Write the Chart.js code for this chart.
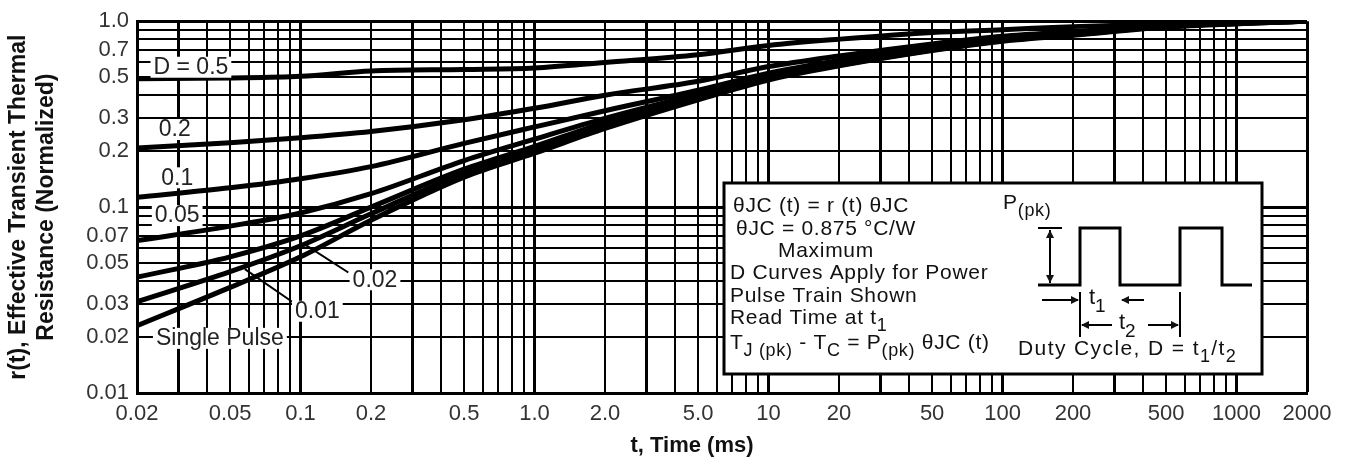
<!DOCTYPE html>
<html>
<head>
<meta charset="utf-8">
<script src="https://cdn.jsdelivr.net/npm/chart.js@4.4.0/dist/chart.umd.min.js"></script>
<style>
  html, body { margin: 0; padding: 0; background: #fff; }
  #wrap { width: 1350px; height: 464px; }
</style>
</head>
<body>
<div id="wrap"><canvas id="myChart" width="1350" height="464"></canvas></div>
<script>
// values: t in ms, r(t) normalized
const times = [0.02, 0.05, 0.1, 0.2, 0.5, 1, 2, 5, 10, 20, 50, 100, 200, 500, 1000, 2000];
const d05    = [0.49, 0.495, 0.505, 0.54, 0.55, 0.56, 0.6, 0.66, 0.74, 0.8, 0.87, 0.9, 0.935, 0.97, 0.99, 1.0];
const d02    = [0.208, 0.222, 0.236, 0.255, 0.295, 0.34, 0.4, 0.475, 0.57, 0.65, 0.755, 0.83, 0.88, 0.95, 0.98, 1.0];
const d01    = [0.113, 0.127, 0.142, 0.165, 0.22, 0.27, 0.33, 0.425, 0.525, 0.615, 0.725, 0.805, 0.865, 0.945, 0.98, 1.0];
const d005   = [0.066, 0.079, 0.093, 0.118, 0.178, 0.232, 0.3, 0.405, 0.505, 0.595, 0.712, 0.795, 0.855, 0.94, 0.975, 1.0];
const d002   = [0.042, 0.054, 0.07, 0.1, 0.16, 0.212, 0.285, 0.392, 0.495, 0.585, 0.705, 0.79, 0.85, 0.935, 0.975, 1.0];
const d001   = [0.031, 0.045, 0.062, 0.092, 0.152, 0.203, 0.275, 0.385, 0.49, 0.58, 0.7, 0.785, 0.845, 0.935, 0.97, 1.0];
const single = [0.023, 0.037, 0.054, 0.085, 0.145, 0.195, 0.265, 0.378, 0.483, 0.575, 0.695, 0.78, 0.84, 0.93, 0.97, 1.0];

const xTickLabels = ['0.02', '0.05', '0.1', '0.2', '0.5', '1.0', '2.0', '5.0', '10', '20', '50', '100', '200', '500', '1000', '2000'];
const yTickLabels = ['0.01', '0.02', '0.03', '0.05', '0.07', '0.1', '0.2', '0.3', '0.5', '0.7', '1.0'];

// curve names and where their text sits (t, r)
const curveNames = ['D = 0.5', '0.2', '0.1', '0.05', '0.02', '0.01', 'Single Pulse'];
const nameAt = [[0.034, 0.569], [0.029, 0.263], [0.0297, 0.1446], [0.0297, 0.0906], [0.208, 0.0409], [0.118, 0.0277], [0.0452, 0.0198]];

// log grid: 1..9 per decade inside the axis range
function logGrid(min, max) {
  const out = [];
  for (let e = -3; e <= 4; e++) {
    for (let m = 1; m <= 9; m++) {
      const v = +(m * Math.pow(10, e)).toPrecision(3);
      if (v >= min * 0.999 && v <= max * 1.001) out.push(v);
    }
  }
  return out;
}
function labelFor(list, v) {
  const hit = list.find(s => Math.abs(parseFloat(s) - v) / v < 1e-6);
  return hit === undefined ? '' : hit;
}
function mantissa(v) {
  return Math.round(v / Math.pow(10, Math.floor(Math.log10(v) + 1e-9)));
}

const font = '"Liberation Sans", Arial, sans-serif';

function mk(vals) {
  return {
    data: times.map((t, i) => ({ x: t, y: vals[i] })),
    borderColor: '#000',
    borderWidth: 5,
    pointRadius: 0,
    fill: false,
    cubicInterpolationMode: 'monotone'
  };
}

function rich(ctx, parts, x, y, size) {
  let cx = x;
  parts.forEach(p => {
    const s = p.sub ? Math.round(size * 0.85) : size;
    ctx.font = s + 'px ' + font;
    ctx.fillText(p.t, cx, y + (p.sub ? size * 0.4 : 0));
    cx += ctx.measureText(p.t).width;
  });
  return cx;
}

function arrowHead(ctx, x, y, dir) {
  ctx.beginPath();
  if (dir === 'r') { ctx.moveTo(x, y); ctx.lineTo(x - 8, y - 4); ctx.lineTo(x - 8, y + 4); }
  if (dir === 'l') { ctx.moveTo(x, y); ctx.lineTo(x + 8, y - 4); ctx.lineTo(x + 8, y + 4); }
  if (dir === 'u') { ctx.moveTo(x, y); ctx.lineTo(x - 4, y + 8); ctx.lineTo(x + 4, y + 8); }
  if (dir === 'd') { ctx.moveTo(x, y); ctx.lineTo(x - 4, y - 8); ctx.lineTo(x + 4, y - 8); }
  ctx.closePath();
  ctx.fill();
}

const notes = {
  id: 'notes',
  afterDatasetsDraw(chart) {
    const { ctx, scales: { x, y } } = chart;
    ctx.save();
    ctx.fillStyle = '#000';
    ctx.strokeStyle = '#000';

    // leader lines for 0.02 and 0.01
    ctx.lineWidth = 2;
    ctx.beginPath();
    ctx.moveTo(x.getPixelForValue(0.16), y.getPixelForValue(0.0445));
    ctx.lineTo(x.getPixelForValue(0.105), y.getPixelForValue(0.0626));
    ctx.moveTo(x.getPixelForValue(0.0947), y.getPixelForValue(0.0302));
    ctx.lineTo(x.getPixelForValue(0.0578), y.getPixelForValue(0.0464));
    ctx.stroke();

    // curve names on white
    ctx.font = '23px ' + font;
    ctx.textAlign = 'center';
    ctx.textBaseline = 'middle';
    curveNames.forEach((n, i) => {
      const px = x.getPixelForValue(nameAt[i][0]);
      const py = y.getPixelForValue(nameAt[i][1]);
      const w = ctx.measureText(n).width;
      ctx.fillStyle = '#fff';
      ctx.fillRect(px - w / 2 - 3, py - 10, w + 6, 21);
      ctx.fillStyle = '#222';
      ctx.fillText(n, px, py + 1);
    });

    // inset box
    const L = 724, T = 183, R = 1262, B = 374;
    ctx.fillStyle = '#fff';
    ctx.fillRect(L, T, R - L, B - T);
    ctx.lineWidth = 3;
    ctx.strokeRect(L, T, R - L, B - T);

    ctx.fillStyle = '#111';
    ctx.textAlign = 'left';
    ctx.textBaseline = 'middle';
    ctx.letterSpacing = '0.7px';
    const fs = 21;
    ctx.font = fs + 'px ' + font;
    ctx.fillText('θJC (t) = r (t) θJC', L + 9, T + 23);
    ctx.fillText('θJC = 0.875 °C/W', L + 12, T + 46);
    ctx.fillText('Maximum', L + 54, T + 68);
    ctx.fillText('D Curves Apply for Power', L + 6, T + 90);
    ctx.fillText('Pulse Train Shown', L + 6, T + 113);
    rich(ctx, [{ t: 'Read Time at t' }, { t: '1', sub: true }], L + 6, T + 135, fs);
    rich(ctx, [{ t: 'T' }, { t: 'J (pk)', sub: true }, { t: ' - T' }, { t: 'C', sub: true }, { t: ' = P' },
               { t: '(pk)', sub: true }, { t: ' θJC (t)' }], L + 6, T + 160, fs);
    ctx.letterSpacing = '1.4px';
    rich(ctx, [{ t: 'Duty Cycle, D = t' }, { t: '1', sub: true }, { t: '/t' }, { t: '2', sub: true }], L + 294, T + 166, fs);
    ctx.letterSpacing = '0.7px';
    rich(ctx, [{ t: 'P' }, { t: '(pk)', sub: true }], L + 279, T + 20, fs);
    ctx.letterSpacing = '0px';

    // pulse train
    const base = T + 102, top = T + 45;
    ctx.lineWidth = 3;
    ctx.beginPath();
    ctx.moveTo(L + 314, base);
    ctx.lineTo(L + 356, base); ctx.lineTo(L + 356, top); ctx.lineTo(L + 396, top); ctx.lineTo(L + 396, base);
    ctx.lineTo(L + 456, base); ctx.lineTo(L + 456, top); ctx.lineTo(L + 498, top); ctx.lineTo(L + 498, base);
    ctx.lineTo(L + 528, base);
    ctx.stroke();
    // P(pk) height arrow
    ctx.lineWidth = 2;
    ctx.beginPath();
    ctx.moveTo(L + 314, top); ctx.lineTo(L + 338, top);
    ctx.moveTo(L + 326, top + 2); ctx.lineTo(L + 326, base - 2);
    ctx.stroke();
    arrowHead(ctx, L + 326, top + 2, 'u');
    arrowHead(ctx, L + 326, base - 2, 'd');
    // t1 and t2 dimensions
    const y1 = T + 117, y2 = T + 142;
    ctx.beginPath();
    ctx.moveTo(L + 318, y1); ctx.lineTo(L + 354, y1);
    ctx.moveTo(L + 398, y1); ctx.lineTo(L + 420, y1);
    ctx.moveTo(L + 356, y1 - 8); ctx.lineTo(L + 356, y2 + 12);
    ctx.moveTo(L + 456, y1 - 8); ctx.lineTo(L + 456, y2 + 12);
    ctx.moveTo(L + 358, y2); ctx.lineTo(L + 388, y2);
    ctx.moveTo(L + 424, y2); ctx.lineTo(L + 454, y2);
    ctx.stroke();
    arrowHead(ctx, L + 355, y1, 'r');
    arrowHead(ctx, L + 397, y1, 'l');
    arrowHead(ctx, L + 357, y2, 'l');
    arrowHead(ctx, L + 455, y2, 'r');
    rich(ctx, [{ t: 't' }, { t: '1', sub: true }], L + 365, y1 - 2, fs + 1);
    rich(ctx, [{ t: 't' }, { t: '2', sub: true }], L + 395, y2 - 2, fs + 1);

    // x axis title, sits a little left of centre in the original
    ctx.fillStyle = '#111';
    ctx.textAlign = 'center';
    ctx.font = 'bold 22px ' + font;
    ctx.fillText('t, Time (ms)', 692, 446);

    ctx.restore();
  }
};

const data = {
  datasets: [mk(d05), mk(d02), mk(d01), mk(d005), mk(d002), mk(d001), mk(single)]
};

const config = {
  type: 'line',
  data,
  plugins: [notes],
  options: {
    responsive: false,
    animation: false,
    devicePixelRatio: 1,
    layout: { padding: { top: 17, right: 43, left: 0, bottom: 0 } },
    plugins: { legend: { display: false }, tooltip: { enabled: false } },
    scales: {
      x: {
        type: 'logarithmic',
        min: 0.02,
        max: 2000,
        afterBuildTicks: s => { s.ticks = logGrid(0.02, 2000).map(v => ({ value: v })); },
        afterFit: s => { s.height = 71; },
        ticks: {
          autoSkip: false,
          maxRotation: 0,
          padding: 8,
          color: '#333',
          font: { family: font, size: 22 },
          callback: v => labelFor(xTickLabels, v)
        },
        grid: {
          color: '#000',
          drawTicks: false,
          lineWidth: c => {
            if (!c.tick) return 2;
            const m = mantissa(c.tick.value);
            return (m === 1 || m === 3 || c.tick.value === 2000) ? 3 : 2;
          }
        },
        border: { color: '#000', width: 3 }
      },
      y: {
        type: 'logarithmic',
        min: 0.01,
        max: 1,
        afterBuildTicks: s => { s.ticks = logGrid(0.01, 1).map(v => ({ value: v })); },
        afterFit: s => { s.width = 137; },
        ticks: {
          autoSkip: false,
          padding: 8,
          color: '#333',
          font: { family: font, size: 22 },
          callback: v => labelFor(yTickLabels, v)
        },
        grid: {
          color: '#000',
          drawTicks: false,
          lineWidth: c => (c.tick && mantissa(c.tick.value) === 1) ? 3 : 2
        },
        border: { color: '#000', width: 3 },
        title: {
          display: true,
          text: ['r(t), Effective Transient Thermal', 'Resistance (Normalized)'],
          color: '#111',
          font: { family: font, size: 23, weight: 'bold', lineHeight: 1.2 },
          padding: { top: 5, bottom: 0 }
        }
      }
    }
  }
};

const myChart = new Chart(document.getElementById('myChart'), config);
</script>
</body>
</html>
